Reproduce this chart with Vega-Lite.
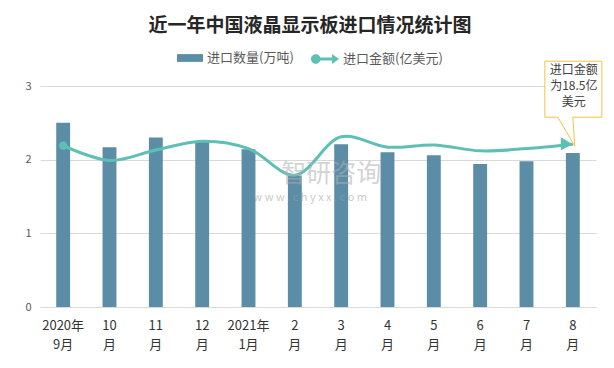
{
  "$schema": "https://vega.github.io/schema/vega-lite/v6.json",
  "width": 556,
  "height": 221,
  "autosize": {"type": "none"},
  "padding": {"left": 40, "top": 86, "right": 18, "bottom": 61},
  "background": "white",
  "title": {
    "text": "近一年中国液晶显示板进口情况统计图",
    "font": "Noto Sans CJK SC",
    "fontSize": 19,
    "fontWeight": "bold",
    "color": "#262626",
    "anchor": "middle",
    "dx": -8,
    "offset": 9
  },
  "config": {
    "font": "Noto Sans CJK SC",
    "view": {"stroke": null},
    "axis": {"labelFont": "Noto Sans CJK SC", "titleFont": "Noto Sans CJK SC"}
  },
  "data": {
    "values": [
      {"m": "2020年|9月", "q": 2.50, "v": 2.19},
      {"m": "10|月", "q": 2.17, "v": 1.99},
      {"m": "11|月", "q": 2.30, "v": 2.13},
      {"m": "12|月", "q": 2.24, "v": 2.25},
      {"m": "2021年|1月", "q": 2.14, "v": 2.15},
      {"m": "2|月", "q": 1.78, "v": 1.79},
      {"m": "3|月", "q": 2.21, "v": 2.31},
      {"m": "4|月", "q": 2.10, "v": 2.17},
      {"m": "5|月", "q": 2.06, "v": 2.20},
      {"m": "6|月", "q": 1.94, "v": 2.12},
      {"m": "7|月", "q": 1.98, "v": 2.15},
      {"m": "8|月", "q": 2.09, "v": 2.21}
    ]
  },
  "encoding": {
    "x": {
      "field": "m",
      "type": "nominal",
      "sort": null,
      "scale": {"paddingInner": 0.7, "paddingOuter": 0.35},
      "axis": {
        "title": null,
        "labelAngle": 0,
        "labelExpr": "split(datum.value, '|')",
        "labelFontSize": 13,
        "labelColor": "#333333",
        "labelLineHeight": 19,
        "labelPadding": 12,
        "labelBaseline": "top",
        "ticks": false,
        "domainColor": "#d9d9d9",
        "domainWidth": 1
      }
    }
  },
  "layer": [
    {
      "mark": {"type": "bar", "color": "#5b8ea6"},
      "encoding": {
        "y": {
          "field": "q",
          "type": "quantitative",
          "scale": {"domain": [0, 3]},
          "axis": {
            "title": null,
            "values": [0, 0.5, 1, 1.5, 2, 2.5, 3],
            "format": "~g",
            "labelFontSize": 11,
            "labelColor": "#595959",
            "labelPadding": 9,
            "ticks": false,
            "domain": false,
            "gridColor": "#d9d9d9",
            "gridWidth": 1
          }
        },
        "fill": {
          "datum": "进口数量(万吨)",
          "scale": {"range": ["#5b8ea6"]},
          "legend": {
            "title": null,
            "orient": "none",
            "legendX": 137,
            "legendY": -41,
            "symbolType": "M -1 -0.3 L 1 -0.3 L 1 0.3 L -1 0.3 Z",
            "symbolSize": 676,
            "symbolStrokeWidth": 0,
            "labelFontSize": 13,
            "labelColor": "#595959",
            "labelOffset": 4
          }
        }
      }
    },
    {
      "mark": {"type": "line", "interpolate": "catmull-rom", "strokeWidth": 3},
      "encoding": {
        "y": {"field": "v", "type": "quantitative"},
        "stroke": {
          "datum": "进口金额(亿美元)",
          "scale": {"range": ["#5ec0b4"]},
          "legend": {
            "title": null,
            "orient": "none",
            "legendX": 271,
            "legendY": -41,
            "symbolType": "M -1 0 A 0.34 0.34 0 0 1 -0.32 0 A 0.34 0.34 0 0 1 -1 0 Z M -0.4 -0.1 L 0.5 -0.1 L 0.5 -0.36 L 1 0 L 0.5 0.36 L 0.5 0.1 L -0.4 0.1 Z",
            "symbolSize": 784,
            "labelFontSize": 13,
            "labelColor": "#595959",
            "labelOffset": 4,
            "encode": {"symbols": {"update": {"fill": {"value": "#5ec0b4"}, "stroke": {"value": "#5ec0b4"}, "strokeWidth": {"value": 0}}}}
          }
        }
      }
    },
    {
      "data": {"values": [{"m": "3|月", "v": 1.8, "w1": "智研咨询", "w2": "w w w . c h y x x . c o m"}]},
      "mark": {"type": "text", "fontSize": 25, "color": "#b0b0b0", "opacity": 0.55, "align": "center", "baseline": "middle", "dx": -10},
      "encoding": {"y": {"field": "v", "type": "quantitative"}, "text": {"field": "w1"}}
    },
    {
      "data": {"values": [{"m": "3|月", "v": 1.8, "w1": "智研咨询", "w2": "w w w . c h y x x . c o m"}]},
      "mark": {"type": "text", "fontSize": 11, "color": "#a0a0a0", "opacity": 0.55, "align": "center", "baseline": "middle", "dx": -31, "dy": 24},
      "encoding": {"y": {"field": "v", "type": "quantitative"}, "text": {"field": "w2"}}
    },
    {
      "transform": [{"filter": "datum.m == '2020年|9月'"}],
      "mark": {"type": "point", "shape": "circle", "filled": true, "size": 70, "color": "#5ec0b4", "opacity": 1},
      "encoding": {"y": {"field": "v", "type": "quantitative"}}
    },
    {
      "transform": [{"filter": "datum.m == '8|月'"}],
      "mark": {"type": "point", "shape": "M -12 -7 L 0 0 L -12 6 Z", "filled": true, "size": 4, "color": "#5ec0b4", "opacity": 1},
      "encoding": {"y": {"field": "v", "type": "quantitative"}}
    },
    {
      "transform": [{"filter": "datum.m == '8|月'"}],
      "mark": {"type": "point", "shape": "M -28 -83 L 29 -83 L 29 -27 L 0 -27 L 2 2 L -15 -27 L -28 -27 Z", "filled": true, "size": 4, "fill": "white", "stroke": "#f5c342", "strokeWidth": 1, "opacity": 1},
      "encoding": {"y": {"field": "v", "type": "quantitative"}}
    },
    {
      "transform": [{"filter": "datum.m == '8|月'"}],
      "mark": {"type": "text", "text": "进口金额\n为18.5亿\n美元", "lineBreak": "\n", "lineHeight": 16, "fontSize": 12, "color": "#404040", "baseline": "top", "align": "center", "dy": -79, "dx": 1},
      "encoding": {"y": {"field": "v", "type": "quantitative"}}
    }
  ]
}
